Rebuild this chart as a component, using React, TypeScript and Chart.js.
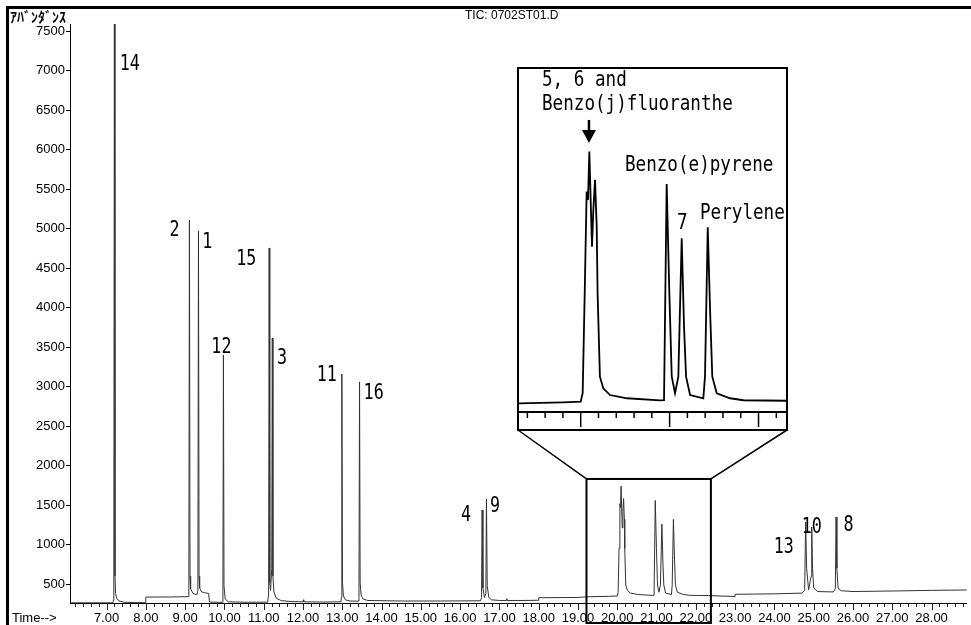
import React, { useEffect, useRef } from "react";
import { Chart, registerables } from "chart.js";

Chart.register(...registerables);

// ---------- data (retention time in minutes, abundance) ----------
const TIMES: number[] = [
  6.10, 7.16, 7.185, 7.20, 7.215, 7.23, 7.26, 7.32, 7.45, 7.70,
  8.00, 8.00, 8.60, 9.08, 9.095, 9.11, 9.125, 9.14, 9.20, 9.30,
  9.325, 9.34, 9.355, 9.37, 9.42, 9.50, 9.60, 9.62, 9.95, 9.962,
  9.975, 9.99, 10.02, 10.10, 10.50, 11.10, 11.125, 11.14, 11.155, 11.175,
  11.205, 11.22, 11.235, 11.26, 11.32, 11.45, 11.70, 12.00, 12.01, 12.02,
  12.50, 12.965, 12.978, 12.99, 13.005, 13.03, 13.08, 13.20, 13.41, 13.425,
  13.44, 13.455, 13.48, 13.53, 13.65, 14.50, 15.50, 16.52, 16.545, 16.56,
  16.58, 16.62, 16.655, 16.67, 16.69, 16.73, 16.80, 17.00, 17.18, 17.19,
  17.20, 17.60, 18.00, 18.00, 19.00, 19.20, 19.80, 20.00, 20.022, 20.045,
  20.067, 20.082, 20.097, 20.127, 20.142, 20.161, 20.18, 20.19, 20.216, 20.254,
  20.33, 20.52, 20.89, 20.937, 20.967, 20.997, 21.024, 21.061, 21.098, 21.136,
  21.162, 21.185, 21.23, 21.379, 21.398, 21.429, 21.455, 21.48, 21.53, 21.68,
  21.83, 22.32, 23.00, 23.00, 24.00, 24.70, 24.77, 24.795, 24.82, 24.87,
  24.935, 24.95, 24.97, 25.00, 25.10, 25.50, 25.55, 25.57, 25.59, 25.62,
  25.70, 26.00, 27.00, 28.00, 28.90,
];
const ABUNDANCE: number[] = [
  262, 262, 300, 7600, 600, 380, 320, 285, 270, 265,
  265, 335, 336, 340, 400, 5109, 600, 440, 380, 365,
  420, 4970, 600, 450, 400, 390, 380, 272, 268, 320,
  3400, 480, 310, 275, 270, 270, 360, 4754, 520, 420,
  700, 3615, 600, 400, 320, 290, 278, 275, 300, 275,
  272, 275, 330, 3159, 520, 350, 300, 285, 283, 330,
  3058, 520, 360, 310, 292, 285, 285, 288, 330, 1437,
  450, 330, 380, 1577, 480, 330, 300, 292, 292, 315,
  292, 292, 295, 327, 330, 338, 345, 349, 396, 951,
  1516, 1469, 1738, 1210, 1414, 1581, 1321, 951, 488, 423,
  386, 368, 356, 357, 1558, 951, 488, 396, 488, 1257,
  766, 488, 386, 368, 488, 1318, 858, 488, 396, 368,
  357, 354, 342, 370, 376, 385, 420, 1285, 700, 424,
  600, 1222, 700, 450, 405, 400, 440, 1349, 700, 450,
  415, 405, 412, 420, 425,
];

const Y_TICKS: number[] = [500, 1000, 1500, 2000, 2500, 3000, 3500, 4000, 4500, 5000, 5500, 6000, 6500, 7000, 7500];
const X_MAJOR: number[] = [7, 8, 9, 10, 11, 12, 13, 14, 15, 16, 17, 18, 19, 20, 21, 22, 23, 24, 25, 26, 27, 28];
const X_LABELS: string[] = [
  "7.00", "8.00", "9.00", "10.00", "11.00", "12.00", "13.00", "14.00", "15.00", "16.00", "17.00",
  "18.00", "19.00", "20.00", "21.00", "22.00", "23.00", "24.00", "25.00", "26.00", "27.00", "28.00",
];

// peak number labels (text anchored in data space: left edge, vertical middle)
const PEAK_TEXT: string[] = ["14", "2", "1", "15", "12", "3", "11", "16", "4", "9", "13", "10", "8"];
const PEAK_T: number[] = [7.337, 8.603, 9.439, 10.30, 9.667, 11.339, 12.352, 13.543, 16.025, 16.76, 23.984, 24.693, 25.757];
const PEAK_V: number[] = [7083, 4982, 4830, 4614, 3501, 3361, 3146, 2918, 1374, 1488, 969, 1222, 1247];

// inset annotations
const INSET_TEXT: string[] = ["5, 6 and", "Benzo(j)fluoranthe", "Benzo(e)pyrene", "7", "Perylene"];
const INSET_T: number[] = [19.565, 19.565, 20.498, 21.083, 21.342];
const INSET_V: number[] = [2132, 2003, 1664, 1342, 1397];
const ARROW_T = 20.093;
const ARROW_V: number[] = [1914, 1786];

// zoomed window marked on the main chart
const ZOOM_T: number[] = [19.216, 22.383];
const ZOOM_V = 1830;

const TITLE = "TIC: 0702ST01.D";
const Y_TITLE = "ｱﾊﾞﾝﾀﾞﾝｽ";
const X_TITLE = "Time-->";

// ---------- layout ----------
const W = 971;
const H = 625;
const PLOT_LEFT = 70;
const PLOT_TOP = 24;
const PLOT_BOTTOM = 603;
const X_RANGE = [6.07, 28.892];
const Y_RANGE = [260, 7589];

const INSET = { left: 517, top: 67, width: 271, height: 364, border: 2, axisH: 17 };
const INSET_X = [19.306, 22.309];
const INSET_Y = [291.7, 2197];

const SANS = "'Liberation Sans', Arial, sans-serif";
const MONO = "'DejaVu Sans Mono', monospace";

function minorTicks(from: number, to: number): number[] {
  const out: number[] = [];
  for (let k = Math.round(from * 5); k <= Math.round(to * 5); k++) out.push(k / 5);
  return out;
}

function drawMono(ctx: CanvasRenderingContext2D, text: string, x: number, y: number, size: number, sx: number) {
  ctx.save();
  ctx.translate(x, y);
  ctx.scale(sx, 1);
  ctx.font = `${size}px ${MONO}`;
  ctx.textBaseline = "middle";
  ctx.textAlign = "left";
  ctx.fillStyle = "#000";
  ctx.fillText(text, 0, 0);
  ctx.restore();
}

const points = () => TIMES.map((t, i) => ({ x: t, y: ABUNDANCE[i] }));

const mainOverlay = {
  id: "mainOverlay",
  afterDraw(chart: any) {
    const ctx: CanvasRenderingContext2D = chart.ctx;
    const xs = chart.scales.x;
    const ys = chart.scales.y;
    const bottom = chart.chartArea.bottom;
    ctx.save();
    // x tick marks
    ctx.strokeStyle = "#222";
    ctx.lineWidth = 1;
    for (const t of minorTicks(6.2, 28.8)) {
      const x = Math.round(xs.getPixelForValue(t)) + 0.5;
      const major = Math.abs(t - Math.round(t)) < 1e-6;
      ctx.beginPath();
      ctx.moveTo(x, bottom);
      ctx.lineTo(x, bottom + (major ? 7 : 4));
      ctx.stroke();
    }
    // texts
    ctx.fillStyle = "#000";
    ctx.textBaseline = "middle";
    ctx.textAlign = "left";
    ctx.font = `13px ${SANS}`;
    ctx.fillText(X_TITLE, 12, 618);
    ctx.font = `12px ${SANS}`;
    ctx.fillText(TITLE, 465, 16);
    ctx.font = `bold 14px 'Noto Sans CJK JP', sans-serif`;
    ctx.fillText(Y_TITLE, 10, 17);
    // peak labels
    PEAK_TEXT.forEach((s, i) => {
      drawMono(ctx, s, xs.getPixelForValue(PEAK_T[i]), ys.getPixelForValue(PEAK_V[i]), 22, 0.76);
    });
    // zoom rectangle + connectors
    const xl = xs.getPixelForValue(ZOOM_T[0]);
    const xr = xs.getPixelForValue(ZOOM_T[1]);
    const yt = ys.getPixelForValue(ZOOM_V);
    ctx.strokeStyle = "#000";
    ctx.lineWidth = 2;
    ctx.strokeRect(xl, yt, xr - xl, H - 2 - yt);
    ctx.lineWidth = 1.5;
    const ib = INSET.top + INSET.height - 1;
    ctx.beginPath();
    ctx.moveTo(xl, yt);
    ctx.lineTo(INSET.left + 1, ib);
    ctx.moveTo(xr, yt);
    ctx.lineTo(INSET.left + INSET.width - 1, ib);
    ctx.stroke();
    // frame
    ctx.fillStyle = "#000";
    ctx.fillRect(6, 6, W - 6, 3);
    ctx.fillRect(6, 6, 3, H - 6);
    ctx.restore();
  },
};

const insetOverlay = {
  id: "insetOverlay",
  afterDraw(chart: any) {
    const ctx: CanvasRenderingContext2D = chart.ctx;
    const xs = chart.scales.x;
    const ys = chart.scales.y;
    const bottom = chart.chartArea.bottom;
    ctx.save();
    ctx.strokeStyle = "#000";
    ctx.lineWidth = 1.5;
    for (const t of minorTicks(19.4, 22.2)) {
      const x = xs.getPixelForValue(t);
      const major = Math.abs(t - Math.round(t)) < 1e-6;
      ctx.beginPath();
      ctx.moveTo(x, bottom);
      ctx.lineTo(x, bottom + (major ? 15 : 6));
      ctx.stroke();
    }
    INSET_TEXT.forEach((s, i) => {
      drawMono(ctx, s, xs.getPixelForValue(INSET_T[i]), ys.getPixelForValue(INSET_V[i]), 22, 0.8);
    });
    // arrow
    const ax = xs.getPixelForValue(ARROW_T);
    const ay0 = ys.getPixelForValue(ARROW_V[0]);
    const ay1 = ys.getPixelForValue(ARROW_V[1]);
    ctx.lineWidth = 2.5;
    ctx.beginPath();
    ctx.moveTo(ax, ay0);
    ctx.lineTo(ax, ay1 - 12);
    ctx.stroke();
    ctx.fillStyle = "#000";
    ctx.beginPath();
    ctx.moveTo(ax - 7, ay1 - 13);
    ctx.lineTo(ax + 7, ay1 - 13);
    ctx.lineTo(ax, ay1);
    ctx.closePath();
    ctx.fill();
    ctx.restore();
  },
};

function mainConfig(): any {
  return {
    type: "line",
    data: {
      datasets: [
        { data: points(), borderColor: "#333", borderWidth: 1, pointRadius: 0, tension: 0, fill: false },
      ],
    },
    options: {
      animation: false,
      responsive: false,
      events: [],
      layout: { padding: { top: PLOT_TOP, left: 0, right: 0, bottom: 0 } },
      plugins: { legend: { display: false }, tooltip: { enabled: false }, title: { display: false } },
      scales: {
        x: {
          type: "linear",
          min: X_RANGE[0],
          max: X_RANGE[1],
          afterBuildTicks: (s: any) => {
            s.ticks = minorTicks(6.2, 28.8).map((v) => ({ value: v }));
          },
          afterFit: (s: any) => {
            s.height = H - PLOT_BOTTOM;
          },
          ticks: {
            autoSkip: false,
            maxRotation: 0,
            minRotation: 0,
            padding: 8,
            color: "#000",
            font: { family: SANS, size: 13 },
            callback: (v: number) => {
              const idx = X_MAJOR.findIndex((m) => Math.abs(m - v) < 1e-6);
              return idx >= 0 ? X_LABELS[idx] : "";
            },
          },
          grid: { display: false, drawTicks: false },
          border: { display: true, color: "#000", width: 1 },
        },
        y: {
          type: "linear",
          min: Y_RANGE[0],
          max: Y_RANGE[1],
          afterBuildTicks: (s: any) => {
            s.ticks = Y_TICKS.map((v) => ({ value: v }));
          },
          afterFit: (s: any) => {
            s.width = PLOT_LEFT;
          },
          ticks: {
            padding: 1,
            color: "#000",
            font: { family: SANS, size: 13 },
            callback: (v: number) => String(v),
          },
          grid: { drawOnChartArea: false, drawTicks: true, tickLength: 4, tickColor: "#000" },
          border: { display: true, color: "#000", width: 1 },
        },
      },
    },
    plugins: [mainOverlay],
  };
}

function insetConfig(): any {
  return {
    type: "line",
    data: {
      datasets: [
        { data: points(), borderColor: "#000", borderWidth: 1.8, pointRadius: 0, tension: 0, fill: false },
      ],
    },
    options: {
      animation: false,
      responsive: false,
      events: [],
      layout: { padding: 0 },
      plugins: { legend: { display: false }, tooltip: { enabled: false }, title: { display: false } },
      scales: {
        x: {
          type: "linear",
          min: INSET_X[0],
          max: INSET_X[1],
          afterFit: (s: any) => {
            s.height = INSET.axisH;
          },
          ticks: { display: false },
          grid: { display: false, drawTicks: false },
          border: { display: true, color: "#000", width: 2 },
        },
        y: {
          type: "linear",
          display: false,
          min: INSET_Y[0],
          max: INSET_Y[1],
        },
      },
    },
    plugins: [insetOverlay],
  };
}

export default function App() {
  const mainRef = useRef<HTMLCanvasElement>(null);
  const insetRef = useRef<HTMLCanvasElement>(null);
  useEffect(() => {
    const main = new Chart(mainRef.current as HTMLCanvasElement, mainConfig());
    const inset = new Chart(insetRef.current as HTMLCanvasElement, insetConfig());
    return () => {
      main.destroy();
      inset.destroy();
    };
  }, []);
  const iw = INSET.width - 2 * INSET.border;
  const ih = INSET.height - 2 * INSET.border;
  return (
    <div style={{ position: "absolute", left: 0, top: 0, width: W, height: H, background: "#fff", overflow: "hidden" }}>
      <canvas ref={mainRef} width={W} height={H} style={{ position: "absolute", left: 0, top: 0, width: W, height: H }} />
      <div
        style={{
          position: "absolute",
          left: INSET.left,
          top: INSET.top,
          width: INSET.width,
          height: INSET.height,
          border: `${INSET.border}px solid #000`,
          boxSizing: "border-box",
          background: "#fff",
        }}
      >
        <canvas ref={insetRef} width={iw} height={ih} style={{ display: "block", width: iw, height: ih }} />
      </div>
    </div>
  );
}
